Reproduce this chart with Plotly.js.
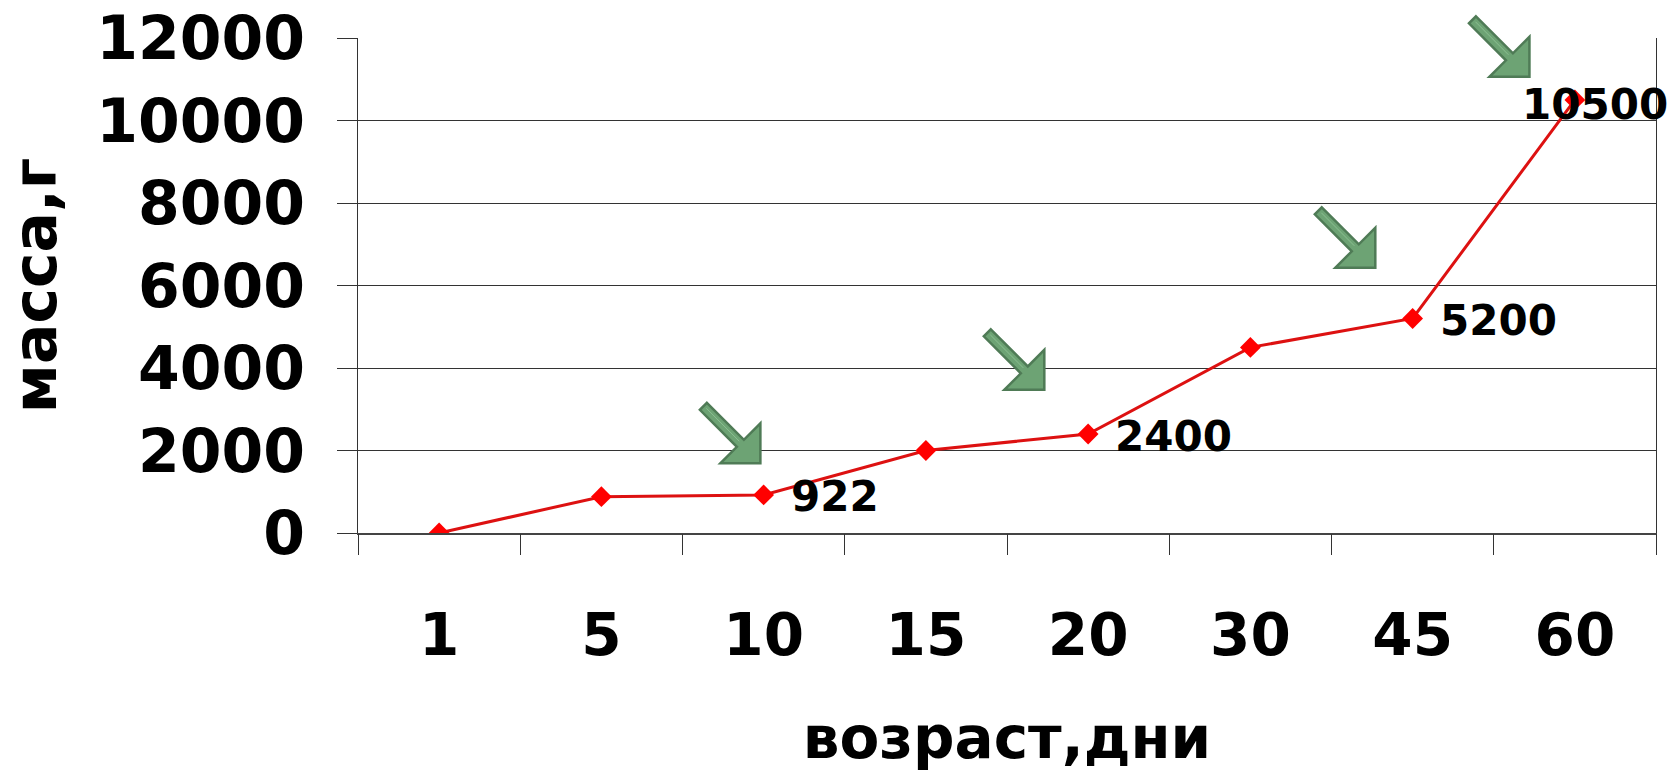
<!DOCTYPE html>
<html><head><meta charset="utf-8">
<script src="https://cdn.plot.ly/plotly-3.0.1.min.js"></script>
<style>html,body{margin:0;padding:0;background:#fff}</style>
</head><body>
<div id="chart" style="width:1670px;height:774px"></div>
<script>
const ages = ['1', '5', '10', '15', '20', '30', '45', '60'];
const mass = [0, 880, 922, 2000, 2400, 4500, 5200, 10500];
const labelIndex = [2, 4, 6, 7];
const yTicks = [0, 2000, 4000, 6000, 8000, 10000, 12000];
const arrowCatPos = [1.98, 3.73, 5.77, 6.72];
const arrowTipY = [1690, 3470, 6430, 11060];

const yMax = 12000;
const nCat = ages.length;
const arrowPath = 'M -53.5,60.5 L -16.5,23.5 L 0,40 L 0,0 L -40,0 L -23.5,16.5 L -60.5,53.5 Z';
const highlightPath = 'M -54,55 L -21,22';
const shapes = [];
arrowCatPos.forEach((cx, i) => {
  const common = {
    type: 'path', xref: 'paper', yref: 'paper', xsizemode: 'pixel', ysizemode: 'pixel',
    xanchor: (cx + 0.5) / nCat, yanchor: arrowTipY[i] / yMax, layer: 'above'
  };
  shapes.push(Object.assign({}, common, {path: arrowPath, fillcolor: '#6da374', line: {color: '#4f7b56', width: 2.5}}));
  shapes.push(Object.assign({}, common, {path: highlightPath, line: {color: '#8cbf92', width: 1}}));
});

const annotations = labelIndex.map(i => {
  const last = i === nCat - 1;
  return {
    x: i, y: mass[i], xref: 'x', yref: 'y', text: String(mass[i]), showarrow: false,
    xanchor: last ? 'center' : 'left', xshift: last ? 20 : 25, yshift: last ? -5 : -2,
    font: {family: 'DejaVu Sans', size: 42, weight: 'bold', color: '#000'}
  };
});

const idx = ages.map((a, i) => i);
const trace = {
  x: idx, y: mass, type: 'scatter', mode: 'lines+markers',
  line: {color: '#dd1111', width: 3},
  marker: {symbol: 'diamond', size: 16, color: '#ff0000'},
  hoverinfo: 'y'
};

const layout = {
  width: 1670, height: 774,
  margin: {l: 358, r: 14, t: 38, b: 241},
  paper_bgcolor: '#fff', plot_bgcolor: '#fff',
  showlegend: false,
  font: {family: 'DejaVu Sans', color: '#000'},
  xaxis: {
    type: 'linear', range: [-0.5, nCat - 0.5], autorange: false,
    tickmode: 'array', tickvals: idx, ticktext: ages, tickangle: 0,
    ticks: '', showline: true, linecolor: '#444', linewidth: 2, showgrid: false, zeroline: false,
    tickfont: {family: 'DejaVu Sans', size: 58, weight: 'bold', color: '#000'},
    ticklabelstandoff: 50,
    title: {text: 'возраст,дни', font: {family: 'DejaVu Sans', size: 58, weight: 'bold', color: '#000'}, standoff: 50},
    automargin: false
  },
  xaxis2: {
    overlaying: 'x', matches: 'x', anchor: 'y', side: 'bottom',
    range: [-0.5, nCat - 0.5], tickmode: 'array', tickvals: idx.map(i => i - 0.5).concat([nCat - 0.5]),
    showticklabels: false, ticks: 'outside', ticklen: 21, tickcolor: '#333', tickwidth: 1,
    showgrid: false, zeroline: false, showline: false
  },
  yaxis: {
    range: [0, yMax], autorange: false, tickvals: yTicks, ticktext: yTicks.map(String),
    ticks: 'outside', ticklen: 20, tickcolor: '#333', tickwidth: 1,
    showgrid: true, gridcolor: '#333', gridwidth: 1,
    showline: true, linecolor: '#333', linewidth: 1, mirror: true, zeroline: false,
    tickfont: {family: 'DejaVu Sans', size: 60, weight: 'bold', color: '#000'},
    ticklabelstandoff: 20,
    title: {text: 'масса,г', font: {family: 'DejaVu Sans', size: 60, weight: 'bold', color: '#000'}, standoff: 28},
    automargin: false
  },
  shapes: shapes,
  annotations: annotations
};

const tickTrace = {x: [], y: [], xaxis: 'x2', yaxis: 'y', type: 'scatter', hoverinfo: 'skip', showlegend: false};

Plotly.newPlot('chart', [trace, tickTrace], layout, {displayModeBar: false, staticPlot: true});
</script>
</body></html>
